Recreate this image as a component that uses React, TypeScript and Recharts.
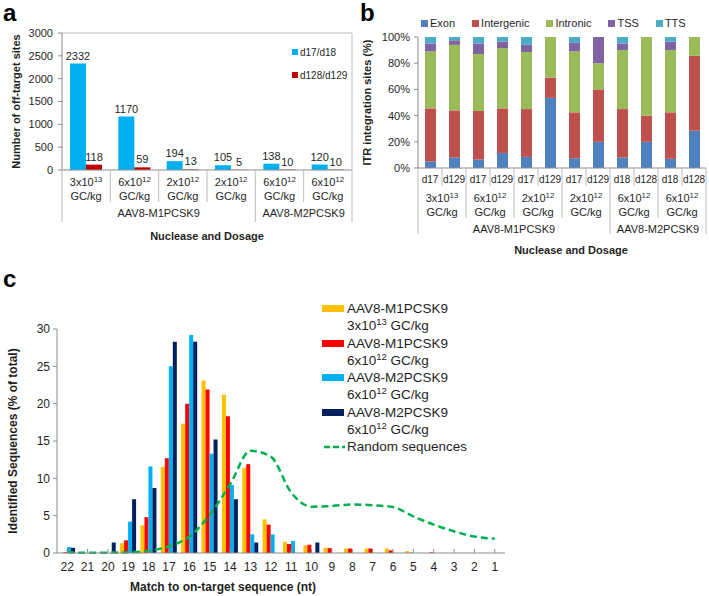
import React from 'react';
import { BarChart, Bar, XAxis, YAxis, LabelList, Legend, ComposedChart, Line, ReferenceLine } from 'recharts';

const FONT = '"Liberation Sans", Arial, Helvetica, sans-serif';
const TEXT = '#1f1f1f';
const AXIS = '#8c8c8c';
const SEP = '#bdbdbd';

// ---------------- panel a data ----------------
const aDoseMantissa = ['3x10', '6x10', '2x10', '2x10', '6x10', '6x10'];
const aDoseExponent = ['13', '12', '12', '12', '12', '12'];
const aGroups = ['AAV8-M1PCSK9', 'AAV8-M1PCSK9', 'AAV8-M1PCSK9', 'AAV8-M1PCSK9', 'AAV8-M2PCSK9', 'AAV8-M2PCSK9'];
const aEarly = [2332, 1170, 194, 105, 138, 120];
const aLate = [118, 59, 13, 5, 10, 10];
const aTicks = [0, 500, 1000, 1500, 2000, 2500, 3000];
const aSeries = ['d17/d18', 'd128/d129'];
const aColors = ['#00B0F0', '#C00000'];

// ---------------- panel b data ----------------
const bDays = ['d17', 'd129', 'd17', 'd129', 'd17', 'd129', 'd17', 'd129', 'd18', 'd128', 'd18', 'd128'];
const bDoseIndex = [0, 0, 1, 1, 2, 2, 3, 3, 4, 4, 5, 5];
const bDoseMantissa = ['3x10', '6x10', '2x10', '2x10', '6x10', '6x10'];
const bDoseExponent = ['13', '12', '12', '12', '12', '12'];
const bGroups = ['AAV8-M1PCSK9', 'AAV8-M1PCSK9', 'AAV8-M1PCSK9', 'AAV8-M1PCSK9', 'AAV8-M2PCSK9', 'AAV8-M2PCSK9'];
const bExon = [5, 8, 6.5, 11.5, 8.5, 53.5, 7.5, 20, 8, 20, 7, 28.5];
const bIntergenic = [40.5, 36, 37, 34, 36.5, 15.5, 35, 40, 37, 20, 35.5, 57.2];
const bIntronic = [43.5, 50, 43.5, 46, 43.5, 31, 46.5, 20, 45, 60, 47.5, 14.3];
const bTSS = [6, 3.5, 8, 5, 5.5, 0, 6.5, 20, 5, 0, 6.5, 0];
const bTTS = [5, 2.5, 5, 3.5, 6, 0, 4.5, 0, 5, 0, 3.5, 0];
const bTicks = [0, 20, 40, 60, 80, 100];
const bSeries = ['Exon', 'Intergenic', 'Intronic', 'TSS', 'TTS'];
const bKeys = ['exon', 'intergenic', 'intronic', 'tss', 'tts'];
const bColors = ['#4F81BD', '#C0504D', '#9BBB59', '#8064A2', '#4BACC6'];

// ---------------- panel c data ----------------
const cMatch = ['22', '21', '20', '19', '18', '17', '16', '15', '14', '13', '12', '11', '10', '9', '8', '7', '6', '5', '4', '3', '2', '1'];
const cM1High = [0, 0, 0.15, 1.3, 3.7, 11.5, 17.3, 23.1, 21.2, 11.4, 4.5, 1.5, 1.0, 0.7, 0.6, 0.6, 0.6, 0.25, 0, 0, 0, 0];
const cM1Low = [0.1, 0, 0, 1.7, 4.8, 12.7, 20, 21.9, 18.3, 11.9, 3.8, 1.2, 1.1, 0.65, 0.6, 0.6, 0.35, 0.05, 0.1, 0, 0, 0];
const cM2a = [0.8, 0, 0, 4.2, 11.6, 25, 29.2, 13.3, 9.1, 2.5, 2.5, 1.6, 0, 0, 0, 0, 0, 0, 0, 0, 0, 0];
const cM2b = [0.7, 0, 1.4, 7.2, 8.7, 28.3, 28.3, 15.2, 7.2, 1.4, 0, 0, 1.4, 0, 0, 0, 0, 0, 0, 0, 0, 0];
const cRandom = [0.1, 0.02, 0.05, 0.1, 0.3, 0.9, 2.2, 5.1, 9.2, 13.7, 12.9, 8.1, 6.2, 6.3, 6.5, 6.4, 6.15, 4.9, 3.8, 2.9, 2.2, 1.9];
const cTicks = [0, 5, 10, 15, 20, 25, 30];
const cKeys = ['m1High', 'm1Low', 'm2a', 'm2b'];
const cColors = ['#FFC000', '#FF0000', '#00B0F0', '#002060'];
const cLegendLine1 = ['AAV8-M1PCSK9', 'AAV8-M1PCSK9', 'AAV8-M2PCSK9', 'AAV8-M2PCSK9'];
const cLegendMantissa = ['3x10', '6x10', '6x10', '6x10'];
const cLegendExponent = ['13', '12', '12', '12'];
const cRandomName = 'Random sequences';
const cRandomColor = '#00B050';

// ---------------- layout constants ----------------
const A_W = 360, A_H = 250, A_YW = 62, A_XH = 80;
const A_M = { top: 33, right: 8, left: 0, bottom: 0 };
const A_PLOT_W = A_W - A_M.left - A_M.right - A_YW;
const A_PLOT_H = A_H - A_M.top - A_M.bottom - A_XH;
const A_BAND = A_PLOT_W / aEarly.length;

const B_W = 349, B_H = 262, B_YW = 58, B_XH = 94;
const B_M = { top: 37, right: 3, left: 0, bottom: 0 };
const B_PLOT_W = B_W - B_M.left - B_M.right - B_YW;
const B_BAND = B_PLOT_W / bDays.length;

const C_W = 709, C_H = 296, C_YW = 57, C_XH = 43;
const C_M = { top: 29, right: 204, left: 0, bottom: 0 };

const aData = aEarly.map((v, i) => ({ key: 'a' + i, early: v, late: aLate[i] }));
const bData = bDays.map((d, i) => ({
  key: 'b' + i,
  exon: bExon[i],
  intergenic: bIntergenic[i],
  intronic: bIntronic[i],
  tss: bTSS[i],
  tts: bTTS[i],
}));
const cData = cMatch.map((m, i) => ({
  match: m,
  m1High: cM1High[i],
  m1Low: cM1Low[i],
  m2a: cM2a[i],
  m2b: cM2b[i],
  random: cRandom[i],
}));

function span(arr: any[], i: number): [number, number] {
  let s = i;
  while (s > 0 && arr[s - 1] === arr[i]) s--;
  let e = i;
  while (e < arr.length - 1 && arr[e + 1] === arr[i]) e++;
  return [s, e];
}

const DoseText = ({ x, y, m, e, size }: any) => (
  <text x={x} y={y} textAnchor="middle" fontSize={size} fill={TEXT}>
    {m}
    <tspan dy={-4} fontSize={size * 0.72}>{e}</tspan>
  </text>
);

const ATick = (props: any) => {
  const { x, y, index } = props;
  const i = index;
  const half = A_BAND / 2;
  const [gs, ge] = span(aGroups, i);
  const mid = (gs + ge) / 2;
  return (
    <g>
      <line x1={x - half} x2={x - half} y1={y} y2={y + (gs === i ? 52 : 32)} stroke={SEP} />
      {i === aGroups.length - 1 && (
        <line x1={x + half} x2={x + half} y1={y - A_PLOT_H} y2={y + 52} stroke={SEP} />
      )}
      <DoseText x={x} y={y + 16} m={aDoseMantissa[i]} e={aDoseExponent[i]} size={11} />
      <text x={x} y={y + 30} textAnchor="middle" fontSize={11} fill={TEXT}>GC/kg</text>
      {Math.floor(mid) === i && (
        <text x={x + (mid - i) * A_BAND} y={y + 47} textAnchor="middle" fontSize={11} fill={TEXT}>
          {aGroups[i]}
        </text>
      )}
    </g>
  );
};

const BTick = (props: any) => {
  const { x, y, index } = props;
  const i = index;
  const half = B_BAND / 2;
  const d = bDoseIndex[i];
  const barGroups = bDoseIndex.map((k) => bGroups[k]);
  const [ds, de] = span(bDoseIndex, i);
  const [gs, ge] = span(barGroups, i);
  const dmid = (ds + de) / 2;
  const gmid = (gs + ge) / 2;
  const len = gs === i ? 66 : ds === i ? 50 : 18;
  return (
    <g>
      <line x1={x - half} x2={x - half} y1={y} y2={y + len} stroke={SEP} />
      {i === bDays.length - 1 && <line x1={x + half} x2={x + half} y1={y} y2={y + 66} stroke={SEP} />}
      <text x={x} y={y + 15} textAnchor="middle" fontSize={10} fill={TEXT}>{bDays[i]}</text>
      {Math.floor(dmid) === i && (
        <g>
          <DoseText x={x + (dmid - i) * B_BAND} y={y + 34} m={bDoseMantissa[d]} e={bDoseExponent[d]} size={11} />
          <text x={x + (dmid - i) * B_BAND} y={y + 48} textAnchor="middle" fontSize={11} fill={TEXT}>GC/kg</text>
        </g>
      )}
      {Math.floor(gmid) === i && (
        <text x={x + (gmid - i) * B_BAND} y={y + 65} textAnchor="middle" fontSize={11} fill={TEXT}>
          {barGroups[i]}
        </text>
      )}
    </g>
  );
};

const CTick = (props: any) => {
  const { x, y, payload } = props;
  return (
    <g>
      <line x1={x} x2={x} y1={y - 4} y2={y} stroke={AXIS} />
      <text x={x} y={y + 18} textAnchor="middle" fontSize={12} fill={TEXT}>{payload.value}</text>
    </g>
  );
};

const ALegend = () => (
  <div style={{ fontSize: 10, color: TEXT, fontFamily: FONT }}>
    {aSeries.map((s, i) => (
      <div key={s} style={{ display: 'flex', alignItems: 'center', height: 14, marginBottom: 9 }}>
        <span style={{ width: 6, height: 6, background: aColors[i], marginRight: 2, display: 'inline-block' }} />
        <span>{s}</span>
      </div>
    ))}
  </div>
);

const BLegend = () => (
  <div style={{ display: 'flex', alignItems: 'center', fontSize: 11, color: TEXT, fontFamily: FONT, height: 14 }}>
    {bSeries.map((s, i) => (
      <div key={s} style={{ display: 'flex', alignItems: 'center', marginRight: 17 }}>
        <span style={{ width: 7, height: 7, background: bColors[i], marginRight: 2, display: 'inline-block' }} />
        <span>{s}</span>
      </div>
    ))}
  </div>
);

const CLegend = () => (
  <div style={{ fontSize: 13.5, lineHeight: '17.3px', color: TEXT, fontFamily: FONT }}>
    {cLegendLine1.map((s, i) => (
      <div key={i}>
        <div style={{ display: 'flex', alignItems: 'center' }}>
          <span style={{ width: 22, height: 7, background: cColors[i], marginRight: 3, display: 'inline-block' }} />
          <span>{s}</span>
        </div>
        <div style={{ paddingLeft: 25 }}>
          {cLegendMantissa[i]}
          <sup style={{ fontSize: 9.5, lineHeight: 0 }}>{cLegendExponent[i]}</sup> GC/kg
        </div>
      </div>
    ))}
    <div style={{ display: 'flex', alignItems: 'center' }}>
      <svg width={25} height={8} style={{ display: 'block' }}>
        <line x1={2} x2={23} y1={4} y2={4} stroke={cRandomColor} strokeWidth={2.5} strokeDasharray="6 3" />
      </svg>
      <span>{cRandomName}</span>
    </div>
  </div>
);

const yAxisCommon = {
  axisLine: { stroke: AXIS },
  tickLine: { stroke: AXIS },
  tickSize: 4,
};

const titleStyle = { fontSize: 11, fontWeight: 'bold', fill: TEXT };
const letterStyle: any = { position: 'absolute', fontSize: 24, lineHeight: '24px', fontWeight: 'bold', color: '#000' };

export default function App() {
  return (
    <div style={{ position: 'absolute', left: 0, top: 0, width: 709, height: 596, background: '#fff', fontFamily: FONT, overflow: 'hidden' }}>
      <div style={{ ...letterStyle, left: 3, top: 1 }}>a</div>
      <div style={{ ...letterStyle, left: 360, top: 1 }}>b</div>
      <div style={{ ...letterStyle, left: 3, top: 267 }}>c</div>

      {/* panel a */}
      <div style={{ position: 'absolute', left: 0, top: 0 }}>
        <BarChart width={A_W} height={A_H} data={aData} margin={A_M} barGap={0} barSize={16}>
          <XAxis
            dataKey="key"
            interval={0}
            tickSize={0}
            tickMargin={0}
            tickLine={false}
            axisLine={{ stroke: AXIS }}
            height={A_XH}
            tick={<ATick />}
            label={{ value: 'Nuclease and Dosage', position: 'insideBottom', offset: 10, ...titleStyle }}
          />
          <YAxis
            {...yAxisCommon}
            width={A_YW}
            domain={[0, 3000]}
            ticks={aTicks}
            tickMargin={5}
            tick={{ fontSize: 11, fill: TEXT }}
            label={{ value: 'Number of off-target sites', angle: -90, position: 'center', dx: -15, ...titleStyle }}
          />
          <ReferenceLine y={3000} stroke={SEP} />
          <Bar dataKey="early" name={aSeries[0]} fill={aColors[0]} isAnimationActive={false}>
            <LabelList dataKey="early" position="top" offset={4} fontSize={11} fill={TEXT} />
          </Bar>
          <Bar dataKey="late" name={aSeries[1]} fill={aColors[1]} isAnimationActive={false}>
            <LabelList dataKey="late" position="top" offset={4} fontSize={11} fill={TEXT} />
          </Bar>
          <Legend
            layout="horizontal"
            verticalAlign="middle"
            align="center"
            wrapperStyle={{ left: 292, top: 45, width: 70, height: 40 }}
            content={() => <ALegend />}
          />
        </BarChart>
      </div>

      {/* panel b */}
      <div style={{ position: 'absolute', left: 360, top: 0 }}>
        <BarChart width={B_W} height={B_H} data={bData} margin={B_M} barSize={11}>
          <XAxis
            dataKey="key"
            interval={0}
            tickSize={0}
            tickMargin={0}
            tickLine={false}
            axisLine={{ stroke: AXIS }}
            height={B_XH}
            tick={<BTick />}
            label={{ value: 'Nuclease and Dosage', position: 'insideBottom', offset: 8, dx: 9, ...titleStyle }}
          />
          <YAxis
            {...yAxisCommon}
            width={B_YW}
            domain={[0, 100]}
            ticks={bTicks}
            tickMargin={4}
            tickFormatter={(v: number) => v + '%'}
            tick={{ fontSize: 11, fill: TEXT }}
            label={{ value: 'ITR integration sites (%)', angle: -90, position: 'center', dx: -22, ...titleStyle }}
          />
          {bKeys.map((k, i) => (
            <Bar key={k} dataKey={k} name={bSeries[i]} stackId="s" fill={bColors[i]} isAnimationActive={false} />
          ))}
          <Legend
            layout="horizontal"
            verticalAlign="middle"
            align="center"
            wrapperStyle={{ left: 61, top: 16, width: 290, height: 14 }}
            content={() => <BLegend />}
          />
        </BarChart>
      </div>

      {/* panel c */}
      <div style={{ position: 'absolute', left: 0, top: 300 }}>
        <ComposedChart width={C_W} height={C_H} data={cData} margin={C_M} barGap={0} barSize={4}>
          <XAxis
            dataKey="match"
            interval={0}
            tickSize={0}
            tickMargin={0}
            tickLine={false}
            axisLine={{ stroke: AXIS }}
            height={C_XH}
            tick={<CTick />}
            label={{ value: 'Match to on-target sequence (nt)', position: 'insideBottom', offset: 5, dx: -58, ...titleStyle, fontSize: 12 }}
          />
          <YAxis
            {...yAxisCommon}
            width={C_YW}
            domain={[0, 30]}
            ticks={cTicks}
            tickMargin={3}
            tick={{ fontSize: 12, fill: TEXT }}
            label={{ value: 'Identified Sequences (% of total)', angle: -90, position: 'center', dx: -16, ...titleStyle, fontSize: 12 }}
          />
          {cKeys.map((k, i) => (
            <Bar key={k} dataKey={k} fill={cColors[i]} isAnimationActive={false} />
          ))}
          <Line
            type="monotone"
            dataKey="random"
            name={cRandomName}
            stroke={cRandomColor}
            strokeWidth={2.5}
            strokeDasharray="7 4"
            dot={false}
            activeDot={false}
            isAnimationActive={false}
          />
          <Legend
            layout="horizontal"
            verticalAlign="middle"
            align="center"
            wrapperStyle={{ left: 322, top: 0, width: 200, height: 160 }}
            content={() => <CLegend />}
          />
        </ComposedChart>
      </div>
    </div>
  );
}
